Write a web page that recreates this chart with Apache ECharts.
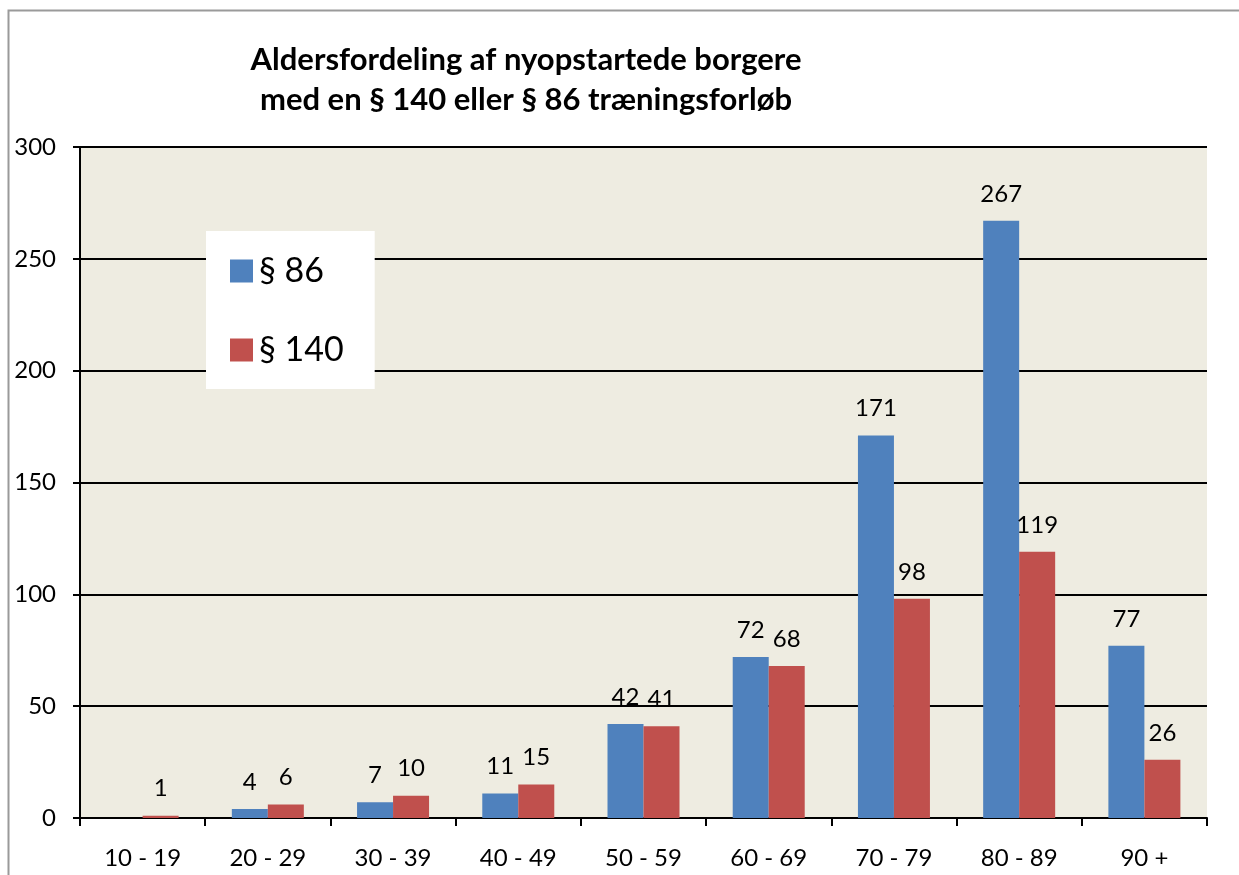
<!DOCTYPE html>
<html>
<head>
<meta charset="utf-8">
<script src="https://cdn.jsdelivr.net/npm/echarts@6/dist/echarts.min.js"></script>
<style>
  html, body { margin: 0; padding: 0; background: #fff; }
  #chart { width: 1239px; height: 875px; }
</style>
</head>
<body>
<div id="chart"></div>
<script>
var categories = ['10 - 19', '20 - 29', '30 - 39', '40 - 49', '50 - 59', '60 - 69', '70 - 79', '80 - 89', '90 +'];
var par86 = [null, 4, 7, 11, 42, 72, 171, 267, 77];
var par140 = [1, 6, 10, 15, 41, 68, 98, 119, 26];

var FONT = 'Lato, "Open Sans", sans-serif';

var myChart = echarts.init(document.getElementById('chart'));
var option = {
    backgroundColor: '#fff',
    animation: false,
    graphic: [
        {   // ramme om diagrammet
            type: 'rect',
            shape: { x: 8.5, y: 10.5, width: 1260, height: 900 },
            style: { fill: 'none', stroke: '#9a9a9a', lineWidth: 2 },
            z: -1
        }
    ],
    title: {
        text: 'Aldersfordeling af nyopstartede borgere\nmed en § 140 eller § 86 træningsforløb',
        left: 521,
        top: 35,
        textAlign: 'center',
        textStyle: {
            fontFamily: FONT,
            fontWeight: 'bold',
            fontSize: 31,
            lineHeight: 40,
            color: '#000'
        }
    },
    legend: {
        orient: 'vertical',
        left: 206,
        top: 231,
        backgroundColor: '#fff',
        padding: [23, 31, 22, 24],
        itemWidth: 23,
        itemHeight: 23,
        itemGap: 45,
        icon: 'rect',
        textStyle: { fontFamily: FONT, fontSize: 34, color: '#000', padding: [0, 0, 0, 1] },
        data: ['§ 86', '§ 140']
    },
    grid: {
        left: 80,
        right: 32,
        top: 147,
        bottom: 57,
        show: true,
        backgroundColor: '#EEECE1',
        borderWidth: 0
    },
    xAxis: {
        type: 'category',
        data: categories,
        axisLine: { lineStyle: { color: '#000', width: 2 } },
        axisTick: { show: true, length: 8, lineStyle: { color: '#000', width: 2 } },
        axisLabel: { fontFamily: FONT, fontSize: 24, color: '#000', margin: 28 },
        splitLine: { show: false }
    },
    yAxis: {
        type: 'value',
        min: 0,
        max: 300,
        interval: 50,
        axisLine: { show: true, lineStyle: { color: '#000', width: 2 } },
        axisTick: { show: true, length: 7, lineStyle: { color: '#000', width: 2 } },
        axisLabel: { fontFamily: FONT, fontSize: 24, color: '#000', margin: 24 },
        splitLine: { show: true, lineStyle: { color: '#000', width: 2 } }
    },
    series: [
        {
            name: '§ 86',
            type: 'bar',
            data: par86,
            barWidth: 36,
            barGap: '0%',
            itemStyle: { color: '#4F81BD' },
            label: {
                show: true,
                position: 'top',
                distance: 15,
                fontFamily: FONT,
                fontSize: 24,
                color: '#000'
            }
        },
        {
            name: '§ 140',
            type: 'bar',
            data: par140,
            barWidth: 36,
            barGap: '0%',
            itemStyle: { color: '#C0504D' },
            label: {
                show: true,
                position: 'top',
                distance: 15,
                fontFamily: FONT,
                fontSize: 24,
                color: '#000'
            }
        }
    ]
};
myChart.setOption(option);
</script>
</body>
</html>
